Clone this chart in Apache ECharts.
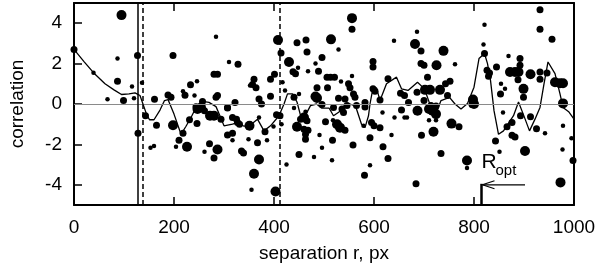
<!DOCTYPE html>
<html><head><meta charset="utf-8">
<script src="https://cdn.jsdelivr.net/npm/echarts@6/dist/echarts.min.js"></script>
<style>html,body{margin:0;padding:0;background:#fff}#c{width:600px;height:268px}</style>
</head><body><div id="c"></div>
<script>
// ---- data ----
const xTicks = [0, 200, 400, 600, 800, 1000];
const yTicks = [-4, -2, 0, 2, 4];
const xName = 'separation r, px';
const yName = 'correlation';
// [separation, correlation, weight class 1..3]
const scatterPoints = [
 [0,2.7,2],[95,4.4,3],[87,2.25,1],[127,2.4,2],[198,2.4,2],[39,1.55,1],[87,1.13,2],[116,0.87,1],[136,1.05,1],
 [67,0.23,1],[99,0.17,2],[120,0.28,1],[161,0.23,2],[188,0.45,2],[194,0.33,2],[218,0.63,1],[222,0.43,2],
 [233,0.95,2],[246,1.13,1],[241,0.42,1],[257,0.12,2],[244,-0.13,2],[284,3.33,1],[280,1.47,2],[287,1.47,2],
 [310,2.08,1],[328,1.97,2],[284,0.33,2],[287,0.42,2],[322,0.07,2],[307,-0.17,2],[128,-1.45,2],[143,-0.58,2],
 [165,-1.05,2],[153,-2.17,1],[160,-2.08,1],[198,-1.05,3],[218,-1.45,2],[210,-1.79,2],[204,-2.12,1],[226,-2.12,3],
 [231,-0.78,2],[246,-0.97,2],[247,-0.25,3],[254,-0.17,3],[261,-0.33,2],[272,-0.58,3],[280,-0.58,3],[271,-1.97,2],
 [261,-2.37,1],[287,-2.25,3],[280,-2.67,2],[294,-0.75,2],[307,-0.2,2],[307,-1.54,2],[317,-1.45,2],[317,-0.67,2],
 [325,-0.75,2],[327,-0.92,2],[317,-1.8,1],[335,-2.33,2],[331,-1.0,2],
 [556,4.25,3],[556,3.7,2],[408,3.17,3],[414,2.53,2],[446,3.03,2],[464,3.17,2],[514,3.2,3],[466,2.58,2],[529,2.7,1],
 [430,2.08,3],[496,2.3,2],[483,2.0,1],[448,1.8,1],[438,1.6,2],[443,1.5,2],[468,1.62,1],[489,1.62,2],[598,2.1,2],
 [598,1.83,2],[640,3.13,1],[401,1.47,2],[393,1.22,2],[417,1.08,1],[360,1.22,2],[357,0.97,2],[364,0.8,2],[352,0.92,1],
 [370,0.25,2],[375,0.0,2],[393,0.38,2],[422,0.67,1],[450,0.5,1],[440,0.33,2],[486,0.8,2],[506,1.33,2],[513,1.33,2],
 [521,1.33,2],[507,0.8,2],[534,1.12,1],[556,1.38,1],[549,1.0,2],[552,0.8,2],[559,0.5,2],[562,0.33,2],[483,0.37,3],
 [486,0.3,3],[529,0.28,2],[542,0.25,2],[598,0.75,2],[602,0.63,2],[612,0.2,2],[628,1.25,2],[653,0.53,2],[661,0.42,2],
 [582,0.08,2],[403,-4.33,3],[355,-4.25,1],[360,-3.45,3],[370,-2.75,3],[339,-2.42,2],[367,-1.92,2],[349,-1.75,1],
 [386,-1.8,1],[351,-1.08,3],[382,-1.37,2],[370,-0.67,1],[399,-1.12,1],[405,-0.53,2],[412,-0.58,2],[415,-1.0,1],
 [425,-3.0,1],[450,-2.5,2],[480,-2.62,1],[440,-0.2,1],[453,-0.75,2],[460,-0.67,3],[466,-0.83,2],[446,-1.13,3],
 [460,-1.25,2],[463,-1.5,2],[463,-1.75,2],[468,-1.3,2],[463,-0.38,1],[491,-1.54,1],[503,-0.88,2],[496,-2.17,1],
 [517,-1.8,2],[516,-2.78,1],[518,-0.8,1],[526,-1.0,3],[532,-1.17,3],[542,-1.3,2],[558,-2.03,2],[581,-3.53,2],
 [592,-3.03,1],[592,-1.67,2],[579,-1.08,1],[595,-0.92,2],[600,-1.08,2],[612,-1.17,2],[618,-2.12,2],[628,-2.7,2],
 [635,-1.54,1],[617,-0.42,1],[641,-0.67,1],[661,-0.67,1],[655,-0.3,2],[546,-0.08,2],[565,-0.08,2],[582,-0.15,2],
 [536,-0.25,2],[539,-0.42,2],[519,-0.17,2],[496,-0.03,2],
 [932,4.67,2],[932,3.7,2],[956,3.2,2],[821,3.92,1],[819,2.95,1],[821,2.5,2],[686,3.58,1],[682,2.97,3],[694,2.62,2],
 [739,2.63,3],[694,2.0,2],[700,1.92,2],[725,1.92,3],[762,1.97,1],[707,1.33,2],[752,1.13,2],[743,1.0,2],[702,0.7,3],
 [712,0.7,3],[732,0.7,3],[686,0.58,2],[747,0.42,2],[669,0.08,2],[700,0.17,2],[714,-0.08,2],[724,-0.1,2],[798,0.22,3],
 [800,0.0,3],[826,1.67,2],[831,1.53,2],[829,1.37,2],[845,1.83,2],[869,2.38,1],[892,2.25,2],[892,1.92,2],[872,1.58,3],
 [882,1.58,3],[889,1.58,3],[888,1.2,2],[913,1.47,3],[932,1.58,2],[932,1.22,2],[946,1.53,2],[962,1.08,3],[972,1.03,3],
 [978,1.03,3],[899,0.75,3],[899,0.33,2],[854,1.0,1],[862,0.75,1],[853,0.5,2],[978,0.03,3],[687,-0.33,3],[666,-0.67,1],
 [710,-0.25,3],[717,-0.33,3],[724,-0.5,3],[710,-0.8,1],[724,-0.8,1],[719,-1.37,3],[695,-1.55,2],[755,-0.97,3],
 [770,-1.13,2],[734,-2.45,2],[786,-2.8,3],[786,-3.17,1],[684,-3.95,2],[796,-0.03,2],[858,-0.42,1],[866,-1.13,2],
 [876,-0.92,2],[876,-1.55,2],[882,-1.63,2],[893,-0.58,2],[913,-0.63,2],[925,-1.22,2],[942,-1.45,1],[843,-1.83,2],
 [851,-2.37,1],[902,-2.33,3],[978,-1.08,1],[977,-2.25,1],[998,-2.8,2],[973,-3.88,3],[995,-1.7,1]
];
// smoothed correlation curve [separation, correlation]
const curvePoints = [
 [0,2.7],[20,2.1],[39,1.55],[62,1.0],[80,0.7],[95,0.47],[110,0.5],[122,0.55],[132,0.42],[145,-0.5],[151,-0.78],
 [160,-0.78],[172,-0.3],[181,0.17],[188,0.22],[200,-0.5],[214,-1.5],[224,-1.1],[234,-0.67],[244,-0.17],[257,0.13],
 [270,0.08],[284,-0.13],[292,-0.6],[300,-1.08],[317,-1.0],[327,-0.92],[340,-1.1],[351,-1.08],[367,-0.75],[380,-1.33],
 [393,-1.08],[410,-0.58],[420,0.0],[427,0.5],[437,0.5],[446,0.1],[455,-0.75],[462,-0.6],[473,-0.08],[485,0.0],
 [495,-0.2],[510,-0.2],[519,-0.58],[530,-0.4],[540,-0.1],[552,0.0],[563,-0.1],[575,-1.0],[582,-1.17],[589,-0.58],
 [592,0.0],[598,0.8],[605,0.8],[612,0.17],[625,1.0],[645,1.33],[655,0.75],[668,0.67],[687,1.08],[701,0.75],
 [721,-0.67],[734,0.17],[751,0.33],[762,0.0],[774,-0.25],[787,0.03],[800,0.83],[810,2.25],[821,2.5],[827,2.0],
 [833,1.17],[840,-0.33],[849,-1.5],[859,-1.33],[879,-0.58],[889,0.1],[900,-0.6],[911,-1.33],[922,-0.75],[932,-0.17],
 [940,1.0],[948,2.08],[962,1.5],[972,0.5],[978,-0.17],[990,-0.4],[1000,-0.75]
];
const solidMarkerX = [128];
const dashedMarkerX = [137, 412];
const zeroLineY = [0];
const roptX = 815, roptTopY = -4.0, roptArrowFromX = 902;
const roptMain = 'R', roptSub = 'opt';

// ---- chart ----
const FONT = 'Liberation Sans';
const sizeByWeight = {1: 4.5, 2: 7, 3: 10};
const chart = echarts.init(document.getElementById('c'), null, {renderer: 'canvas'});
const axisLineStyle = {show: true, onZero: false, lineStyle: {color: '#000', width: 2}};
const tickStyle = {show: true, inside: true, length: 8, lineStyle: {color: '#000', width: 1.5}};
const plainNumber = v => String(v);

chart.setOption({
  animation: false,
  backgroundColor: '#fff',
  grid: {left: 70, right: 26, top: 3, bottom: 63, containLabel: false},
  xAxis: [
    {type: 'value', min: 0, max: 1000, interval: 200, position: 'bottom',
     axisLine: axisLineStyle, axisTick: tickStyle, splitLine: {show: false},
     axisLabel: {show: true, color: '#000', fontFamily: FONT, fontSize: 19, margin: 13,
       customValues: xTicks, formatter: plainNumber},
     name: xName, nameLocation: 'middle', nameGap: 39,
     nameTextStyle: {color: '#000', fontFamily: FONT, fontSize: 19}},
    {type: 'value', min: 0, max: 1000, interval: 200, position: 'top',
     axisLine: axisLineStyle, axisTick: tickStyle, splitLine: {show: false},
     axisLabel: {show: false}}
  ],
  yAxis: [
    {type: 'value', min: -5, max: 5, position: 'left',
     axisLine: axisLineStyle, splitLine: {show: false},
     axisTick: Object.assign({}, tickStyle, {customValues: yTicks}),
     axisLabel: {show: true, color: '#000', fontFamily: FONT, fontSize: 19, margin: 12,
       customValues: yTicks, formatter: plainNumber},
     name: yName, nameLocation: 'middle', nameGap: 47,
     nameTextStyle: {color: '#000', fontFamily: FONT, fontSize: 19}},
    {type: 'value', min: -5, max: 5, position: 'right',
     axisLine: axisLineStyle, splitLine: {show: false},
     axisTick: {show: false}, axisLabel: {show: false}}
  ],
  series: [
    {type: 'line', data: [], z: 1, silent: true,
     markLine: {silent: true, symbol: ['none', 'none'], label: {show: false},
       data: [
         ...zeroLineY.map(v => ({yAxis: v, lineStyle: {color: '#8a8a8a', width: 1, type: 'solid'}})),
         ...solidMarkerX.map(v => ({xAxis: v, lineStyle: {color: '#000', width: 1.5, type: 'solid'}})),
         ...dashedMarkerX.map(v => ({xAxis: v, lineStyle: {color: '#000', width: 1.5, type: [5, 3]}}))
       ]}},
    {type: 'scatter', data: scatterPoints, z: 2, clip: false,
     symbol: 'circle', symbolSize: v => sizeByWeight[v[2]],
     itemStyle: {color: '#000', opacity: 1}},
    {type: 'line', data: curvePoints, z: 3, showSymbol: false, symbol: 'none', smooth: false,
     lineStyle: {color: '#000', width: 1.3}},
    {type: 'custom', z: 4, data: [[roptX, roptTopY]], silent: true,
     renderItem: function (params, api) {
       const top = api.coord([roptX, roptTopY]);
       const base = api.coord([roptX, -5]);
       const tail = api.coord([roptArrowFromX, roptTopY]);
       return {type: 'group', children: [
         {type: 'line', shape: {x1: base[0], y1: base[1], x2: top[0], y2: top[1] - 1},
          style: {stroke: '#000', lineWidth: 2.5}},
         {type: 'line', shape: {x1: tail[0], y1: tail[1], x2: top[0] + 1, y2: top[1]},
          style: {stroke: '#000', lineWidth: 1.2}},
         {type: 'polyline', shape: {points: [[top[0] + 13, top[1] - 4], [top[0] + 1, top[1]], [top[0] + 13, top[1] + 4]]},
          style: {stroke: '#000', fill: null, lineWidth: 1.2}},
         {type: 'text', x: top[0], y: top[1] - 23,
          style: {text: roptMain, fill: '#000', font: '21px "Liberation Sans"', align: 'left', verticalAlign: 'middle'}},
         {type: 'text', x: top[0] + 14, y: top[1] - 14,
          style: {text: roptSub, fill: '#000', font: '15px "Liberation Sans"', align: 'left', verticalAlign: 'middle'}}
       ]};
     }}
  ]
});
</script>
</body></html>
